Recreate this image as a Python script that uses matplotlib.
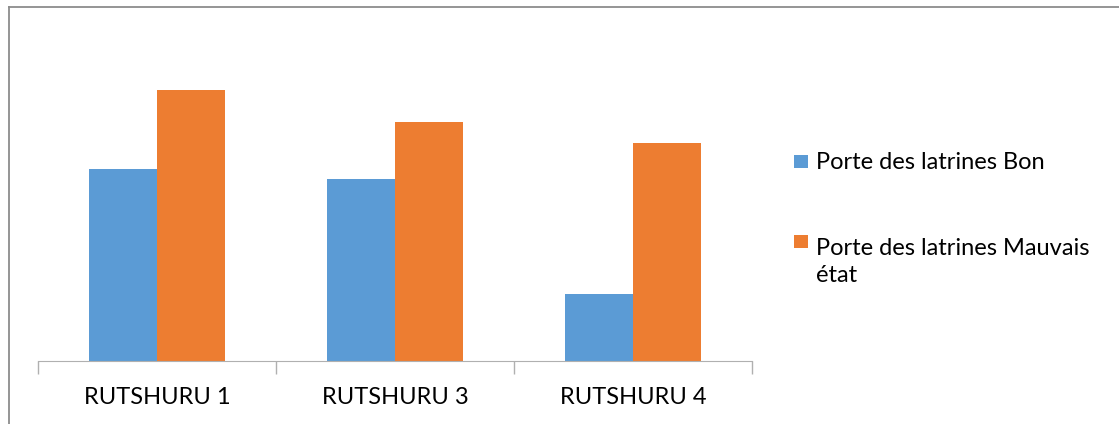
import matplotlib
matplotlib.use("Agg")
import matplotlib.pyplot as plt
from matplotlib.lines import Line2D
from matplotlib.patches import Rectangle
import numpy as np

categories = ["RUTSHURU 1", "RUTSHURU 3", "RUTSHURU 4"]
bon = [20, 19, 7]
mauvais = [28.2, 24.9, 22.7]
series_labels = ["Porte des latrines Bon", "Porte des latrines Mauvais\nétat"]
colors = ["#5B9BD5", "#ED7D31"]

plt.rcParams['font.family'] = ['Lato', 'DejaVu Sans']

W, H = 1119, 424
fig = plt.figure(figsize=(W / 100, H / 100), dpi=100)

# chart border (left and top visible)
fig.add_artist(Line2D([9 / W, 9 / W], [0, 1 - 7 / H], transform=fig.transFigure, color="#8c8c8c", lw=1.3))
fig.add_artist(Line2D([9 / W, 1], [1 - 7 / H, 1 - 7 / H], transform=fig.transFigure, color="#8c8c8c", lw=1.3))

ax = fig.add_axes([38 / W, (H - 361) / H, 714 / W, 336 / H])
x = np.arange(len(categories))
bw = 0.284
ax.bar(x - bw / 2, bon, width=bw, color=colors[0], label=series_labels[0])
ax.bar(x + bw / 2, mauvais, width=bw, color=colors[1], label=series_labels[1])
ax.set_xlim(-0.5, len(categories) - 0.5)
ax.set_ylim(0, 35)

for s in ["top", "right", "left"]:
    ax.spines[s].set_visible(False)
ax.spines["bottom"].set_color("#b0b0b0")
ax.set_yticks([])
ax.set_xticks(x)
ax.set_xticklabels(categories, fontsize=17, color="#000000")
ax.tick_params(axis="x", which="major", length=0, pad=19)
ax.set_xticks(np.arange(-0.5, len(categories), 1.0), minor=True)
ax.tick_params(axis="x", which="minor", length=9, color="#b0b0b0", width=1)

# legend drawn manually (handle aligned with first text line)
legend_baselines = [169, 249]
line_step = 33
for lab, col, yb in zip(series_labels, colors, legend_baselines):
    fig.add_artist(Rectangle((794 / W, 1 - (yb - 1) / H), 14 / W, 13 / H,
                             transform=fig.transFigure, facecolor=col, edgecolor="none"))
    last_baseline = yb + line_step * lab.count("\n")
    fig.text(816 / W, 1 - last_baseline / H, lab, fontsize=17, va="baseline", ha="left",
             linespacing=1.38, color="#000000")

fig.savefig("out.png", dpi=100)
